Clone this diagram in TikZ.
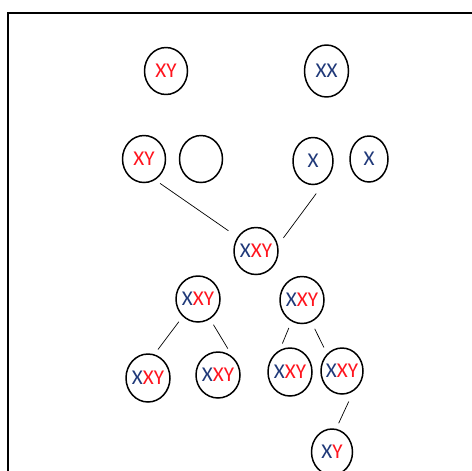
\documentclass[tikz,border=0pt]{standalone}
\usepackage{fontspec}
\setmainfont{Carlito}
\usepackage{xcolor}
\usetikzlibrary{shapes.geometric}
\definecolor{chrred}{RGB}{255,20,30}
\definecolor{chrblue}{RGB}{31,56,120}
\newcommand{\cx}{\textcolor{chrblue}{X}}
\newcommand{\cy}[1]{\textcolor{chrred}{#1}}

\begin{document}
\begin{tikzpicture}[x=0.02cm, y=-0.02cm,
    cell/.style={draw, ellipse, line width=0.85pt, inner xsep=-3pt, inner ysep=0pt,
        minimum width=0.86cm, minimum height=0.94cm, font=\fontsize{12}{14}\selectfont},
    link/.style={line width=0.4pt}]
    \useasboundingbox (0,0) rectangle (472,470);
    \clip (0,0) rectangle (472,470);
    \draw[line width=1.1pt] (8,13) rectangle (490,490);

    % parents
    \node[cell] (dad) at (166,71) {\cy{XY}};
    \node[cell, minimum width=0.88cm, minimum height=1.04cm] (mum) at (326.5,71) {\textcolor{chrblue}{XX}};

    % gametes
    \node[cell] (sperm) at (144,159) {\cy{XY}};
    \node[cell] (sperm2) at (201,159) {};
    \node[cell, minimum width=0.8cm] (egg) at (313,161) {\cx};
    \node[cell, minimum width=0.76cm, minimum height=0.92cm] (egg2) at (369,159) {\cx};

    % zygote
    \node[cell, minimum width=0.88cm] (zyg) at (256,251) {\cx\cy{XY}};

    % first division
    \node[cell, minimum width=0.88cm, minimum height=0.92cm] (cl) at (198,299) {\cx\cy{XY}};
    \node[cell, minimum width=0.88cm] (cr) at (302,300) {\cx\cy{XY}};

    % second division
    \node[cell, minimum width=0.88cm, minimum height=0.96cm] (da) at (148,378) {\cx\cy{XY}};
    \node[cell, minimum width=0.88cm, minimum height=0.92cm] (db) at (218,375) {\cx\cy{XY}};
    \node[cell, minimum width=0.88cm, minimum height=0.96cm] (dc) at (290,372) {\cx\cy{XY}};
    \node[cell, minimum width=0.84cm, minimum height=0.92cm] (dd) at (342,371) {\cx\cy{XY}};

    % lost X
    \node[cell, minimum width=0.82cm, minimum height=0.92cm] (ea) at (332,452) {\cx\cy{Y}};

    % connectors
    \draw[link, shorten <=0.12cm, shorten >=0.22cm] (sperm.-62) -- (zyg.143);
    \draw[link, shorten <=0.38cm, shorten >=0.18cm] (egg.-50) -- (zyg.15);
    \draw[link, shorten <=0.13cm, shorten >=0.12cm] (cl.-131) -- (da.75);
    \draw[link, shorten <=0.13cm, shorten >=0.2cm] (cl.-59) -- (db.50);
    \draw[link, shorten <=0.14cm, shorten >=0.14cm] (cr.-116) -- (dc.115);
    \draw[link, shorten <=0.15cm, shorten >=0.14cm] (cr.-67) -- (dd.131);
    \draw[link, shorten <=0.23cm, shorten >=0.12cm] (dd.-60) -- (ea.80);
\end{tikzpicture}
\end{document}
